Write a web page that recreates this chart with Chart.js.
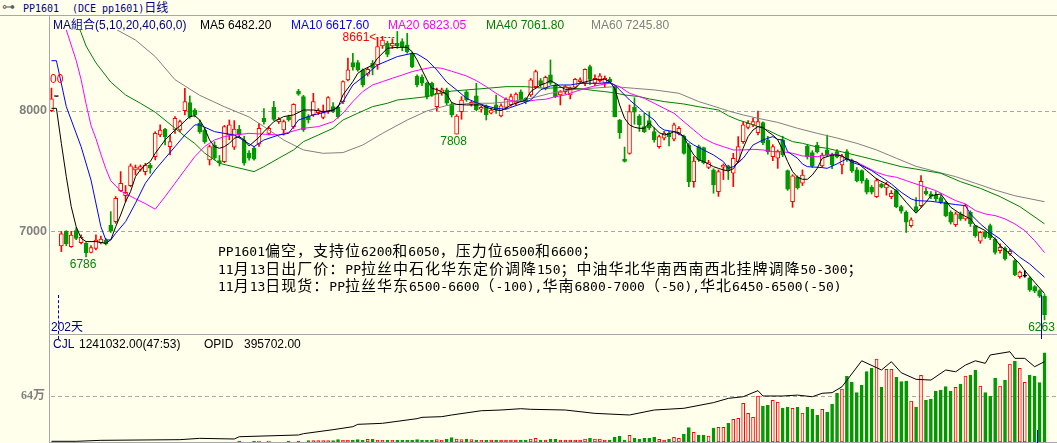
<!DOCTYPE html>
<html>
<head>
<meta charset="utf-8">
<title>PP1601 日线</title>
<script src="https://cdn.jsdelivr.net/npm/chart.js@4.4.0/dist/chart.umd.min.js"></script>
<style>
body { margin: 0; background: #FFFFEC; }
#box { position: relative; width: 1057px; height: 443px; overflow: hidden; background: #FFFFEC; font-family: "Liberation Sans", "Noto Sans CJK SC", sans-serif; }
.t { position: absolute; white-space: nowrap; font-size: 12px; line-height: 14px; }
.mono { font-family: "DejaVu Sans Mono", monospace; font-size: 10px; }
.line { position: absolute; background: #A8A8A8; }
canvas { position: absolute; left: 0; }
#note { position: absolute; left: 218px; top: 242px; font-family: "Noto Sans CJK SC"; font-size: 15px; line-height: 15.5px; letter-spacing: 1px; white-space: nowrap; color: #000; }
#note .a { font-family: "DejaVu Sans Mono"; font-size: 13px; letter-spacing: 0; }
</style>
</head>
<body>
<div id="box">
  <canvas id="main" width="1057" height="317" style="top:17px"></canvas>
  <canvas id="vol" width="1057" height="108" style="top:335px"></canvas>
  <div class="t" style="left:2px;top:0;font-size:13px;color:#606060">⊶</div>
  <div class="t" style="left:23px;top:1px;color:#000080"><span class="mono">PP1601</span></div>
  <div class="t" style="left:72px;top:1px;color:#000080"><span class="mono">(DCE pp1601)</span>日线</div>
  <div class="line" style="left:0;top:15px;width:1057px;height:1px"></div>
  <div class="line" style="left:49px;top:16px;width:1px;height:427px"></div>
  <div class="line" style="left:49px;top:334px;width:1008px;height:1px"></div>
  <div class="line" style="left:49px;top:442px;width:1008px;height:1px"></div>
  <div id="legend"></div>
  <div id="note"></div>
  <div class="t" style="left:50px;top:72px;color:#FF0000">00</div>
  <div class="t" style="left:51px;top:320px;color:#000090">202天</div>
  <div style="position:absolute;left:58px;top:295px;height:44px;border-left:1px dashed #0000C0"></div>
  <div style="position:absolute;left:1041px;top:295px;width:1px;height:44px;background:#0000C0"></div>
  <div style="position:absolute;left:1037px;top:430px;width:1px;height:13px;background:#0000C0"></div>
  <div id="volHead"></div>
</div>
<script>
// daily candles, PP1601
const opens = [8003,8120,6878,7002,6872,7005,6905,6900,6825,6858, 6905,6927,7052,7080,7338,7296,7379,7510,7515,7496,
  7551,7620,7800,7848,7704,7842,7842,8003,8069,8008, 7898,7842,7593,7717,7587,7579,7800,7700,7850,7760,
  7650,7690,7725,7939,7814,8030,7911,7842,7953,7870, 8166,8119,7953,7967,7986,7947,7994,8036,8030,8078,
  8258,8402,8402,8341,8305,8396,8382,8540,8562,8540, 8562,8576,8549,8479,8290,8280,8230,8230,8036,8147,
  8175,8058,7808,7994,8160,8055,8125,8014,8042,7981, 8050,7958,8030,8050,8064,8160,8105,8133,8202,8252,
  8188,8300,8216,8133,8160,8133,8197,8244,8230,8369, 8230,8252,8230,8263,8202,7925,7600,7648,8030,7958,
  7870,7920,7828,7703,7773,7814,7765,7814,7792,7717, 7413,7703,7695,7530,7510,7330,7532,7543,7482,7579,
  7745,7864,7884,7820,7903,7760,7620,7607,7760,7504, 7246,7449,7400,7709,7654,7717,7543,7676,7634,7662,
  7551,7662,7587,7510,7504,7427,7366,7288,7393,7360, 7288,7338,7205,7158,7047,7205,7213,7335,7310,7300,
  7280,7241,7158,7055,7144,7103,7158,7047,6917,6992, 7047,6936,6839,6861,6812,6756,6623,6626,6612,6540,
  6507,6460];
const highs = [8190,8120,6997,7005,7000,7030,6970,6905,6880,6970, 6960,6940,7163,7288,7496,7380,7560,7551,7551,7565,
  7565,7828,7884,7856,7800,7953,7925,8188,8125,8020, 7925,7856,7717,7745,7630,7880,7925,7920,7880,7790,
  7670,7700,7897,8020,7870,8080,7945,7925,7965,8060, 8180,8130,7970,8147,8020,8050,8119,8069,8040,8250,
  8440,8480,8420,8350,8360,8420,8604,8620,8580,8600, 8661,8600,8645,8490,8300,8300,8240,8240,8190,8190,
  8190,8070,7970,8119,8170,8080,8230,8040,8050,8020, 8133,8060,8110,8140,8150,8175,8110,8270,8340,8270,
  8290,8424,8230,8170,8210,8200,8270,8275,8350,8382, 8300,8310,8291,8280,8210,7930,7700,8050,8110,7970,
  7980,7990,7860,7800,7830,7830,7900,7870,7800,7730, 7620,7717,7700,7590,7520,7510,7560,7550,7648,7787,
  7911,7920,7940,8000,7910,7790,7720,7676,7790,7510, 7470,7460,7510,7720,7670,7740,7650,7800,7650,7680,
  7640,7680,7600,7530,7510,7440,7380,7440,7400,7407, 7338,7345,7215,7170,7111,7280,7463,7360,7330,7330,
  7300,7250,7170,7160,7160,7225,7170,7050,7000,7000, 7060,6945,6895,6870,6850,6765,6670,6673,6620,6548,
  6515,6474];
const lows = [7995,8120,6831,6880,6866,6930,6895,6786,6820,6845, 6895,6886,6990,7066,7330,7246,7370,7468,7500,7468,
  7482,7593,7787,7717,7634,7814,7828,7967,7939,7950, 7814,7731,7551,7593,7543,7570,7760,7680,7780,7550,
  7590,7590,7705,7890,7800,7920,7895,7800,7915,7855, 8130,7830,7900,7955,7970,7935,7980,7985,7940,8060,
  8250,8340,8330,8200,8290,8300,8346,8520,8450,8520, 8520,8500,8480,8360,8200,8210,8100,8120,8000,8130,
  8050,7950,7808,7931,8080,8040,8000,7990,7925,7975, 7980,7950,8020,8040,8050,8080,8060,8120,8190,8200,
  8175,8220,8110,8050,8140,8100,8180,8230,8210,8220, 8210,8240,8197,8230,7950,7772,7575,7640,7890,7830,
  7820,7845,7740,7690,7760,7710,7750,7800,7640,7370, 7366,7580,7560,7520,7316,7290,7430,7430,7371,7570,
  7730,7850,7870,7800,7720,7640,7587,7523,7620,7340, 7199,7350,7380,7600,7530,7650,7530,7620,7520,7610,
  7476,7580,7490,7410,7400,7310,7310,7280,7360,7300, 7270,7195,7150,6990,7033,7160,7200,7300,7270,7250,
  7230,7120,7060,7040,7090,7090,7040,6950,6900,6940, 6930,6810,6817,6760,6800,6630,6610,6618,6500,6490,
  6450,6263];
const closes = [8100,8120,6978,6894,6969,6941,6950,6822,6864,6927, 6936,6894,7000,7274,7399,7324,7543,7530,7537,7551,
  7524,7814,7842,7787,7745,7939,7911,8078,7953,7967, 7828,7745,7704,7607,7570,7870,7884,7850,7800,7566,
  7607,7600,7856,7911,7856,7930,7931,7911,7925,8055, 8139,7842,7925,8078,8008,7986,8111,7994,7953,8244,
  8341,8363,8341,8216,8346,8355,8535,8590,8470,8562, 8540,8535,8493,8369,8216,8230,8119,8133,8147,8175,
  8064,7967,7958,8091,8091,8072,8008,8030,7967,8008, 8008,8042,8097,8119,8141,8091,8078,8258,8327,8216,
  8280,8230,8119,8160,8202,8188,8263,8258,8346,8263, 8272,8291,8272,8244,7953,7820,7580,7994,7990,7884,
  7828,7860,7760,7787,7814,7787,7884,7856,7648,7413, 7584,7593,7570,7570,7385,7496,7551,7510,7607,7703,
  7884,7898,7911,7911,7737,7662,7703,7662,7635,7349, 7460,7363,7468,7620,7543,7662,7634,7634,7551,7620,
  7620,7593,7504,7421,7421,7324,7324,7421,7366,7393, 7316,7205,7166,7075,7094,7172,7416,7310,7290,7270,
  7240,7130,7075,7144,7103,7213,7061,6964,6992,6950, 6945,6825,6867,6770,6834,6640,6660,6626,6512,6501,
  6460,6307];
// CJL (volume)
const volume = [0,0,0,0,0,0,0,0,0,0, 0,0,0,0,0,0,0,0,0,0, 0,0,0,0,0,0,0,0,0,0,
  0,0,0,0,0,0,0,0,14000,0, 0,14000,14000,0,14000,0,0,0,14000,0,
  14000,0,20000,20000,20000,20000,20000,20000,32000,23000, 23000,23000,32000,23000,37000,37000,23000,23000,23000,23000,
  23000,23000,23000,23000,32000,23000,23000,23000,32000,23000, 37000,60000,42000,32000,42000,32000,28000,23000,23000,28000,
  28000,28000,28000,28000,28000,28000,28000,42000,51000,28000, 28000,42000,42000,28000,28000,28000,28000,28000,42000,51000,
  42000,42000,28000,28000,65000,83000,28000,93000,51000,42000, 51000,51000,65000,37000,28000,42000,65000,51000,111000,199000,
  134000,97000,97000,83000,195000,204000,204000,260000,315000,329000, 538000,399000,343000,640000,501000,510000,580000,557000,473000,487000,
  470000,482000,403000,482000,459000,376000,455000,417000,529000,677000, 737000,914000,830000,686000,793000,979000,1025000,1155000,765000,1011000,
  1011000,900000,839000,849000,570000,487000,928000,584000,598000,710000, 723000,770000,710000,761000,807000,918000,932000,1002000,779000,686000,
  640000,890000,779000,863000,1085000,1127000,1025000,830000,932000,918000, 825000,1241032];
// OPID (open interest), read at [day index, value]
const openInterest = [[0,3400],[5,3400],[10,8200],[26,11500],[30,18000],[37,14800],[38,26000],[50,34500],[51,41000],[57,60700],
  [61,75400],[62,87000],[67,92000],[74,115000],[75,121500],[79,124800],[81,133000],[87,154000],[91,157600],[95,164000],
  [97,161000],[104,157600],[110,141000],[117,133000],[122,157600],[128,166000],[134,194000],[137,215000],[140,223000],[143,253000],
  [144,226500],[148,226500],[151,231000],[154,223000],[156,240000],[158,243000],[160,272000],[164,400000],[168,354600],[170,395500],
  [172,341000],[175,308600],[178,305000],[181,354600],[183,346000],[185,379000],[187,400000],[189,387500],[190,428500],[194,444700],
  [195,412000],[197,412000],[199,371000],[201,395702]];

// moving averages, [day index, value]
const ma5Pts = [[0,8022],[1,8022],[2,7731],[3,7454],[4,7205],[5,7038],[6,6942],[7,6914],[9,6914],[11,6900],[12,6928],[13,7038],
  [14,7135],[15,7246],[16,7329],[17,7454],[18,7510],[19,7551],[20,7579],[21,7648],[22,7703],[23,7759],[24,7800],[25,7842],
  [26,7875],[27,7917],[28,7953],[29,7961],[30,7925],[31,7856],[32,7759],[33,7703],[34,7690],[35,7703],[36,7731],[37,7773],
  [38,7787],[39,7759],[40,7709],[42,7781],[43,7828],[45,7911],[47,7953],[49,7967],[51,8008],[53,8008],[55,7994],[57,8008],
  [58,8030],[59,8133],[61,8244],[62,8313],[63,8341],[65,8382],[66,8438],[68,8521],[70,8529],[72,8529],[73,8493],[74,8424],
  [75,8341],[76,8258],[77,8188],[78,8178],[80,8140],[81,8070],[82,8055],[84,8050],[87,8050],[88,8030],[90,8008],[91,8003],
  [92,8022],[93,8050],[95,8078],[96,8091],[97,8161],[99,8216],[100,8230],[101,8252],[102,8230],[103,8202],[104,8180],[105,8180],
  [106,8188],[107,8230],[109,8252],[110,8263],[112,8263],[113,8244],[114,8188],[115,8050],[116,7939],[117,7884],[118,7864],
  [119,7856],[120,7856],[121,7900],[122,7860],[123,7820],[124,7800],[125,7810],[126,7828],[127,7820],[128,7787],[129,7703],
  [130,7634],[131,7593],[132,7579],[133,7559],[134,7537],[135,7523],[136,7510],[137,7501],[138,7520],[139,7579],[140,7690],
  [141,7787],[142,7842],[143,7870],[144,7864],[145,7828],[146,7800],[147,7759],[148,7676],[149,7579],[150,7496],[151,7449],
  [152,7432],[153,7432],[154,7468],[155,7523],[156,7607],[157,7620],[158,7634],[159,7634],[160,7626],[161,7601],[163,7574],
  [165,7504],[167,7435],[169,7393],[171,7338],[173,7241],[175,7150],[177,7241],[178,7296],[180,7310],[181,7255],[182,7200],
  [184,7144],[186,7103],[187,7047],[189,7006],[191,6936],[192,6881],[194,6812],[196,6728],[197,6673],[199,6576],[201,6482.2]];
const ma10Pts = [[0,8418],[1,8418],[3,8036],[6,7703],[8,7426],[10,7038],[11,6928],[12,6928],[13,6983],[15,7080],[17,7233],
  [19,7399],[21,7510],[23,7607],[25,7703],[27,7800],[29,7884],[30,7884],[33,7828],[37,7800],[41,7703],[43,7759],[46,7800],
  [48,7814],[50,7925],[53,7967],[57,8005],[59,8078],[61,8216],[64,8313],[66,8382],[70,8452],[73,8479],[74,8474],[76,8424],
  [78,8341],[80,8240],[82,8175],[84,8105],[86,8069],[88,8042],[90,8022],[92,8014],[93,8030],[95,8058],[97,8091],[99,8175],
  [101,8208],[103,8216],[105,8216],[107,8230],[109,8230],[111,8230],[113,8238],[114,8216],[115,8175],[117,8091],[119,8022],
  [120,7986],[122,7925],[123,7870],[124,7842],[126,7828],[128,7787],[129,7745],[130,7717],[132,7676],[134,7634],[136,7579],
  [137,7523],[138,7537],[140,7607],[141,7662],[142,7717],[144,7759],[146,7787],[147,7764],[148,7759],[149,7662],[151,7607],
  [152,7559],[153,7537],[155,7532],[156,7529],[157,7523],[159,7560],[161,7603],[162,7574],[164,7546],[166,7504],[168,7449],
  [170,7393],[172,7324],[174,7269],[175,7255],[178,7249],[181,7233],[183,7222],[185,7213],[186,7144],[188,7061],[190,6992],
  [192,6936],[194,6853],[196,6784],[198,6728],[201,6617.6]];
const ma20Pts = [[2,8870],[3,8673],[5,8420],[6,8260],[7,8060],[8,7880],[9,7770],[10,7640],[11,7520],[12,7420],[14,7335],
  [17,7270],[19,7230],[21,7183],[23,7288],[25,7399],[27,7510],[29,7620],[31,7704],[33,7759],[35,7787],[37,7800],[40,7814],
  [46,7800],[51,7856],[54,7870],[57,7911],[59,7981],[61,8078],[63,8161],[65,8216],[67,8244],[69,8272],[71,8299],[73,8327],
  [75,8346],[77,8363],[79,8355],[81,8330],[84,8291],[86,8252],[88,8202],[90,8147],[92,8097],[94,8078],[96,8078],[98,8091],
  [100,8097],[102,8119],[104,8133],[106,8161],[108,8188],[110,8208],[112,8224],[113,8230],[115,8202],[117,8147],[119,8119],
  [120,8105],[122,8064],[124,8022],[126,7981],[128,7911],[130,7842],[132,7773],[134,7731],[136,7703],[138,7676],[140,7676],
  [142,7681],[144,7676],[146,7662],[148,7662],[150,7648],[152,7626],[155,7620],[157,7634],[159,7643],[161,7601],[163,7574],
  [165,7532],[167,7490],[169,7463],[171,7449],[173,7421],[175,7393],[177,7366],[179,7338],[181,7296],[183,7255],[185,7227],
  [187,7172],[189,7144],[191,7130],[193,7103],[195,7061],[197,7006],[199,6922],[201,6823.05]];
const ma40Pts = [[4,8850],[6,8650],[7,8540],[9,8400],[12,8240],[15,8133],[18,8064],[21,7990],[24,7890],[27,7790],[29,7730],
  [31,7650],[34,7565],[37,7535],[41,7496],[43,7537],[46,7607],[49,7676],[51,7745],[54,7800],[57,7856],[59,7925],[62,7981],
  [65,8036],[68,8064],[70,8091],[73,8105],[76,8119],[78,8141],[81,8165],[84,8175],[88,8188],[92,8202],[96,8202],[100,8188],
  [104,8197],[108,8180],[110,8169],[112,8161],[114,8150],[116,8133],[119,8119],[121,8100],[124,8078],[128,8058],[131,8035],
  [133,8022],[135,8008],[137,7960],[139,7925],[141,7900],[143,7870],[145,7840],[147,7800],[150,7745],[152,7731],[155,7700],
  [157,7690],[160,7660],[164,7620],[168,7579],[172,7537],[176,7510],[180,7482],[184,7412],[188,7357],[192,7288],[196,7205],
  [201,7061.8]];
const ma60Pts = [[8,8820],[10,8760],[13,8680],[17,8590],[21,8452],[25,8260],[30,8130],[35,8035],[40,7950],[43,7870],[47,7759],
  [51,7676],[55,7648],[59,7654],[63,7717],[67,7814],[72,7925],[76,8000],[80,8045],[85,8064],[89,8064],[93,8078],[97,8105],
  [101,8147],[105,8175],[109,8188],[114,8202],[118,8188],[122,8175],[127,8147],[131,8078],[134,8040],[137,8000],[140,7967],
  [143,7939],[147,7905],[151,7856],[155,7814],[159,7775],[163,7731],[167,7676],[171,7607],[175,7540],[179,7496],[183,7454],
  [187,7399],[191,7343],[195,7295],[201,7245.8]];

const priceTicks = [7000, 8000];
const volTicks = [640000];
const lowMarks = [7, 82, 201];
const highMarks = [70];
const noteLines = [
  'PP1601偏空，支持位6200和6050，压力位6500和6600；',
  '11月13日出厂价：PP拉丝中石化华东定价调降150；中油华北华南西南西北挂牌调降50-300；',
  '11月13日现货：PP拉丝华东6500-6600（-100),华南6800-7000（-50),华北6450-6500(-50)'
];

const RED = '#FF0000', GREEN = '#009900', BG = '#FFFFEC';
const days = opens.map((_, i) => i + 1);
const candleColor = opens.map((o, i) => closes[i] > o ? RED : closes[i] < o ? GREEN : '#000000');
const volColor = opens.map((o, i) => closes[i] >= o ? RED : GREEN);
const isUp = opens.map((o, i) => closes[i] > o);

function fromPts(pts) {
  const arr = new Array(days.length).fill(null);
  pts.forEach(([i, v]) => { arr[i] = v; });
  return arr;
}
const lastOf = pts => pts[pts.length - 1][1];

function maLine(pts, color) {
  return { type: 'line', data: fromPts(pts), borderColor: color, borderWidth: 1, pointRadius: 0,
    spanGaps: true, tension: 0, order: 1 };
}

// legend row
const legend = [
  ['MA組合(5,10,20,40,60,0)', '#000080', 53],
  ['MA5 ' + lastOf(ma5Pts).toFixed(2), '#000000', 200],
  ['MA10 ' + lastOf(ma10Pts).toFixed(2), '#0000FF', 291],
  ['MA20 ' + lastOf(ma20Pts).toFixed(2), '#FF00FF', 388],
  ['MA40 ' + lastOf(ma40Pts).toFixed(2), '#008000', 486],
  ['MA60 ' + lastOf(ma60Pts).toFixed(2), '#808080', 591]
];
legend.forEach(([txt, color, left]) => {
  const d = document.createElement('div');
  d.className = 't';
  d.style.cssText = `left:${left}px;top:18px;color:${color}`;
  d.textContent = txt;
  document.getElementById('legend').appendChild(d);
});

const volHead = [
  ['CJL', '#000080', 53],
  [volume[volume.length - 1].toFixed(2) + '(47:53)', '#000000', 79],
  ['OPID', '#000000', 204],
  [lastOf(openInterest).toFixed(2), '#000000', 244]
];
volHead.forEach(([txt, color, left]) => {
  const d = document.createElement('div');
  d.className = 't';
  d.style.cssText = `left:${left}px;top:337px;color:${color}`;
  d.textContent = txt;
  document.getElementById('volHead').appendChild(d);
});

const note = document.getElementById('note');
noteLines.forEach(s => {
  const d = document.createElement('div');
  s.split(/([\x20-\x7e]+)/).forEach(part => {
    if (!part) return;
    const sp = document.createElement('span');
    if (/^[\x20-\x7e]+$/.test(part)) sp.className = 'a';
    sp.textContent = part;
    d.appendChild(sp);
  });
  note.appendChild(d);
});

const dashTicks = {
  id: 'dashTicks',
  beforeDatasetsDraw(chart) {
    const { ctx, chartArea, scales: { y } } = chart;
    ctx.save();
    ctx.strokeStyle = '#A8A8A8';
    ctx.lineWidth = 1;
    ctx.setLineDash([4, 3]);
    y.ticks.forEach(t => {
      const py = Math.round(y.getPixelForValue(t.value)) + 0.5;
      ctx.beginPath();
      ctx.moveTo(chartArea.left + 2, py);
      ctx.lineTo(chart.width, py);
      ctx.stroke();
    });
    ctx.restore();
  }
};

const priceMarks = {
  id: 'priceMarks',
  afterDatasetsDraw(chart) {
    const { ctx, scales: { x, y } } = chart;
    ctx.save();
    ctx.font = '12px "Liberation Sans"';
    ctx.textBaseline = 'middle';
    ctx.textAlign = 'center';
    ctx.fillStyle = '#008800';
    lowMarks.forEach(i => {
      const txt = String(lows[i]);
      const w = ctx.measureText(txt).width;
      let px = x.getPixelForValue(i) - 3;
      if (px + w / 2 > chart.width - 1) px = chart.width - 1 - w / 2;
      ctx.fillText(txt, px, y.getPixelForValue(lows[i]) + 8);
    });
    highMarks.forEach(i => {
      const px = x.getPixelForValue(i);
      const py = Math.round(y.getPixelForValue(highs[i])) + 6.5;
      ctx.fillStyle = '#FF0000';
      ctx.textAlign = 'right';
      ctx.fillText(highs[i] + '<', px - 21, py);
      ctx.strokeStyle = '#FF0000';
      ctx.lineWidth = 1;
      ctx.setLineDash([2, 2]);
      ctx.beginPath();
      ctx.moveTo(px - 21, py);
      ctx.lineTo(px - 2, py);
      ctx.stroke();
    });
    ctx.restore();
  }
};

// fixed 49px axis, no extra label padding above/below the plot
const yFit = s => { s.width = 49; s.paddingTop = 0; s.paddingBottom = 0; };

new Chart(document.getElementById('main'), {
  type: 'bar',
  data: {
    labels: days,
    datasets: [
      { data: lows.map((l, i) => [l, highs[i]]), backgroundColor: candleColor, borderWidth: 0,
        barThickness: 1, grouped: false, order: 3 },
      { data: opens.map((o, i) => [o, closes[i]]), backgroundColor: opens.map((o, i) => isUp[i] ? BG : candleColor[i]),
        borderColor: candleColor, borderWidth: 1, borderSkipped: false, barThickness: 4, minBarLength: 1,
        grouped: false, order: 2 },
      maLine(ma5Pts, '#000000'),
      maLine(ma10Pts, '#0000FF'),
      maLine(ma20Pts, '#FF00FF'),
      maLine(ma40Pts, '#008000'),
      maLine(ma60Pts, '#808080')
    ]
  },
  options: {
    responsive: false, animation: false, events: [],
    layout: { padding: { top: 13, right: 10, bottom: 0, left: 0 } },
    plugins: { legend: { display: false }, tooltip: { enabled: false } },
    scales: {
      x: { display: false, offset: true },
      y: {
        min: 6146, max: 8673,
        afterFit: yFit,
        afterBuildTicks: s => { s.ticks = priceTicks.map(v => ({ value: v })); },
        grid: { display: false, drawTicks: false },
        border: { display: false },
        ticks: { padding: 2, color: '#808080', font: { family: 'Liberation Sans', weight: 'bold', size: 12.5 },
          callback: v => String(v) }
      }
    }
  },
  plugins: [dashTicks, priceMarks]
});

new Chart(document.getElementById('vol'), {
  type: 'bar',
  data: {
    labels: days,
    datasets: [
      { data: volume.map(v => v || null), backgroundColor: opens.map((o, i) => closes[i] >= o ? BG : GREEN),
        borderColor: volColor, borderWidth: 1, borderSkipped: false, barThickness: 3, grouped: false, order: 2 },
      { type: 'line', yAxisID: 'y2', data: fromPts(openInterest), borderColor: '#000000', borderWidth: 1,
        pointRadius: 0, spanGaps: true, tension: 0, order: 1 }
    ]
  },
  options: {
    responsive: false, animation: false, events: [],
    layout: { padding: { top: 0, right: 10, bottom: 1, left: 0 } },
    plugins: { legend: { display: false }, tooltip: { enabled: false } },
    scales: {
      x: { display: false, offset: true },
      y: {
        min: 0, max: 1488700,
        afterFit: yFit,
        afterBuildTicks: s => { s.ticks = volTicks.map(v => ({ value: v })); },
        grid: { display: false, drawTicks: false },
        border: { display: false },
        ticks: { padding: 4, color: '#808080', font: { family: '"Liberation Serif", "Noto Sans CJK SC"', weight: 'bold', size: 12 },
          callback: v => (v / 10000) + '万' }
      },
      y2: { display: false, min: 0, max: 527000 }
    }
  },
  plugins: [dashTicks]
});
</script>
</body>
</html>
